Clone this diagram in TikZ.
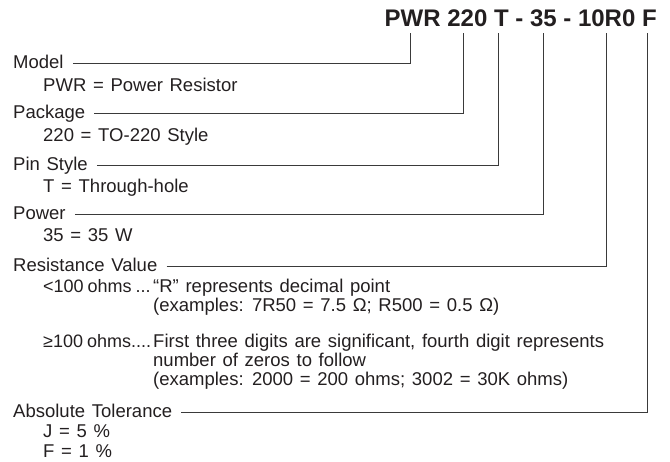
\documentclass[tikz,border=0pt]{standalone}
\usepackage{fontspec}
\setmainfont{Liberation Sans}[WordSpace=1.3]
\newfontfamily\codefam{Liberation Sans}
\usepackage{xcolor}
\usepackage{tikz}
\usetikzlibrary{positioning,calc}
\definecolor{cInk}{HTML}{231F20}
\definecolor{cRule}{HTML}{3A3A3A}
\newcommand\txtfont{\fontsize{18.5}{19}\selectfont}
\newcommand\tagfont{\fontsize{18}{19}\selectfont\spaceskip 4pt\relax}
\newcommand\codefont{\codefam\fontsize{24}{26}\selectfont\bfseries}
\tikzset{
  head/.style={anchor=base west,inner sep=0pt,font=\txtfont,text=cInk},
  sub/.style={head},
  tag/.style={head,font=\tagfont},
  code/.style={anchor=base east,inner sep=0pt,font=\codefont,text=cInk},
  lead/.style={line width=1pt,color=cRule},
}

\begin{document}
\begin{tikzpicture}[x=1pt,y=1pt]
    \useasboundingbox (0,0) rectangle (670,-462);
    % part number and the tops of its leaders
    \node[code] (pn) at (657,-27) {PWR 220 T - 35 - 10R0 F};
    \coordinate (tPWR) at (410,-33);
    \coordinate (tPkg) at (463,-33);
    \coordinate (tPin) at (498,-33);
    \coordinate (tPow) at (543,-33);
    \coordinate (tRes) at (606,-33);
    \coordinate (tTol) at (647,-33);
    % fields
    \node[head] (model) at (13,-69) {Model};
    \node[sub] (modelA) at (43,-92) {PWR = Power Resistor};
    \node[head] (pkg) at (13,-119) {Package};
    \node[sub] (pkgA) at (43,-142) {220 = TO-220 Style};
    \node[head] (pin) at (13,-171) {Pin Style};
    \node[sub] (pinA) at (43,-193) {T = Through-hole};
    \node[head] (pow) at (13,-220) {Power};
    \node[sub] (powA) at (43,-242) {35 = 35 W};
    \node[head] (res) at (13,-272) {Resistance Value};
    \node[tag] (resLo) at (43,-293) {<100 ohms ...};
    \node[sub] (resLoA) at (153,-293) {“R” represents decimal point};
    \node[sub] (resLoB) at (153,-312) {(examples: 7R50 = 7.5 Ω; R500 = 0.5 Ω)};
    \node[tag] (resHi) at (43,-348) {≥100 ohms....};
    \node[sub] (resHiA) at (153,-348) {First three digits are significant, fourth digit represents};
    \node[sub] (resHiB) at (153,-367) {number of zeros to follow};
    \node[sub] (resHiC) at (153,-386) {(examples: 2000 = 200 ohms; 3002 = 30K ohms)};
    \node[head] (tol) at (13,-418) {Absolute Tolerance};
    \node[sub] (tolJ) at (43,-438) {J = 5 \%};
    \node[sub] (tolF) at (43,-458) {F = 1 \%};
    % leaders
    \draw[lead] ([xshift=9pt,yshift=5pt]model.base east) -| (tPWR);
    \draw[lead] ([xshift=9pt,yshift=5pt]pkg.base east) -| (tPkg);
    \draw[lead] ([xshift=9pt,yshift=5pt]pin.base east) -| (tPin);
    \draw[lead] ([xshift=9pt,yshift=5pt]pow.base east) -| (tPow);
    \draw[lead] ([xshift=9pt,yshift=5pt]res.base east) -| (tRes);
    \draw[lead] ([xshift=9pt,yshift=5pt]tol.base east) -| (tTol);
\end{tikzpicture}
\end{document}
